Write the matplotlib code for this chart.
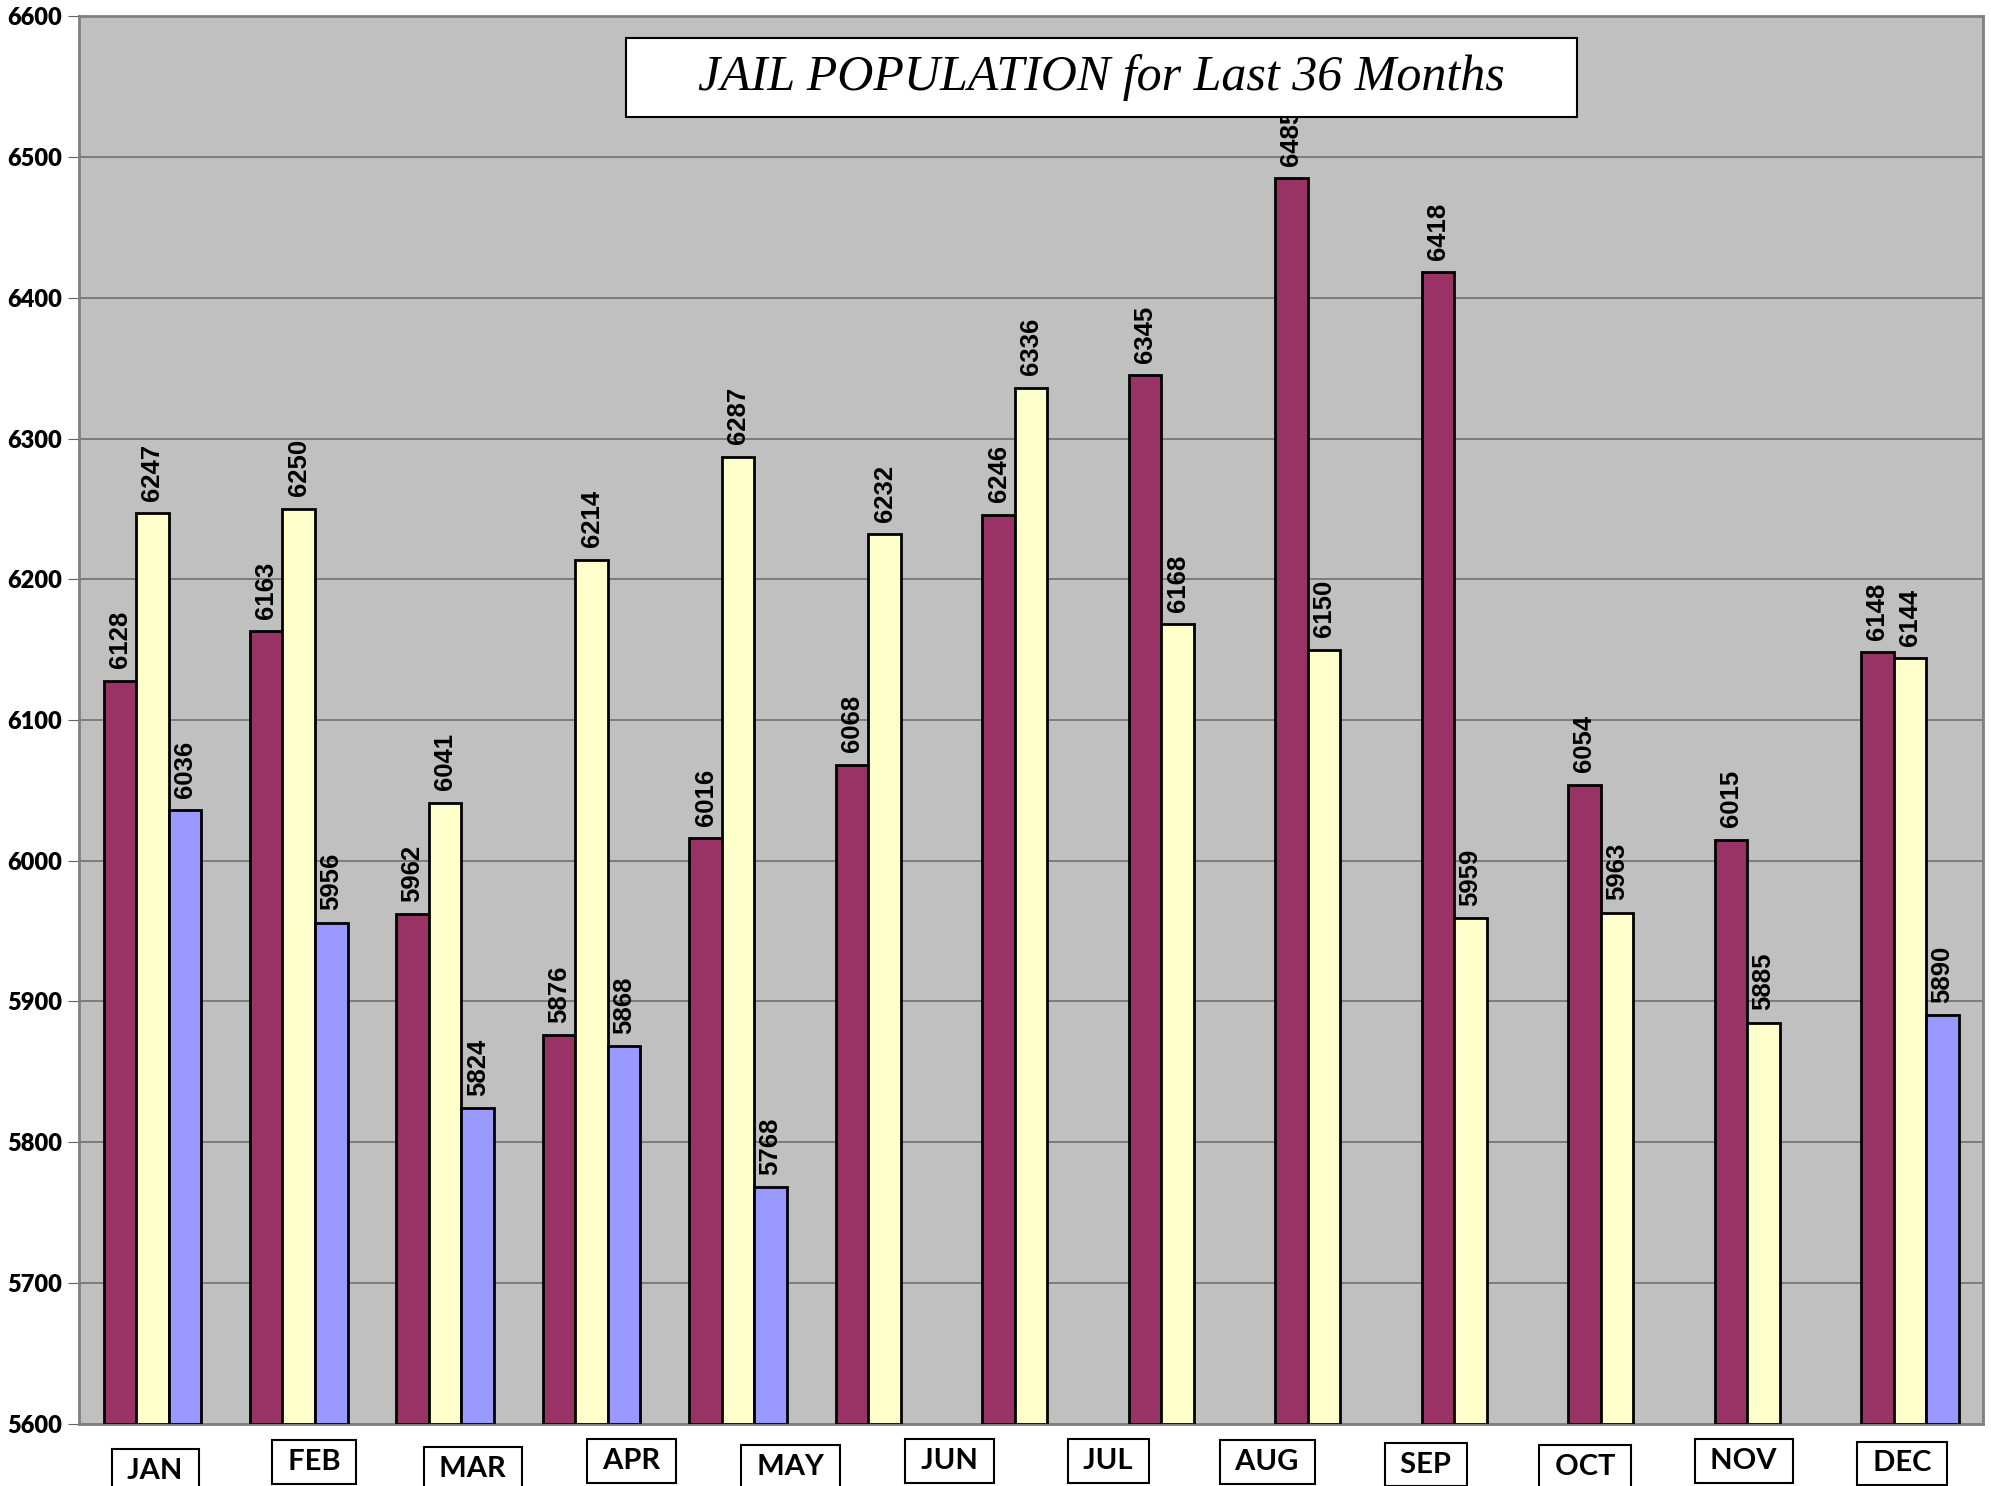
import numpy as np
import matplotlib.pyplot as plt
from matplotlib.patches import Rectangle
from matplotlib.transforms import blended_transform_factory

# values (13 groups of bars, 12 month boxes below)
year1 = [6128, 6163, 5962, 5876, 6016, 6068, 6246, 6345, 6485, 6418, 6054, 6015, 6148]
year2 = [6247, 6250, 6041, 6214, 6287, 6232, 6336, 6168, 6150, 5959, 5963, 5885, 6144]
year3 = [6036, 5956, 5824, 5868, 5768, None, None, None, None, None, None, None, 5890]
months = ['JAN', 'FEB', 'MAR', 'APR', 'MAY', 'JUN', 'JUL', 'AUG', 'SEP', 'OCT', 'NOV', 'DEC']
yticks = list(range(5600, 6601, 100))

# tops of the month boxes, in pixels of the shrunk view (they wobble a bit)
box_top = [1140, 1133, 1138, 1132, 1137, 1132, 1132, 1133, 1135, 1137, 1132, 1134]

colors = ['#993366', '#FFFFCC', '#9999FF']
width = 0.222

fig = plt.figure(figsize=(19.91, 14.86), dpi=100)
ax = fig.add_axes([0.0397, 0.042, 0.9563, 0.947])
ax.set_facecolor('#C0C0C0')

x = np.arange(len(year1))
for k, series in enumerate([year1, year2, year3]):
    for i, v in enumerate(series):
        if v is None:
            continue
        xc = x[i] + (k - 1) * width
        ax.bar(xc, v - 5600, bottom=5600, width=width, color=colors[k],
               edgecolor='black', linewidth=2, zorder=3)
        ax.annotate(str(v), (xc, v), xytext=(0, 9), textcoords='offset points',
                    rotation=90, ha='center', va='bottom', fontsize=18.5,
                    fontweight='bold', family='Liberation Sans', zorder=4,
                    annotation_clip=False)

ax.set_xlim(-0.5, 12.5)
ax.set_ylim(5600, 6600)
ax.set_yticks(yticks)
ax.set_yticklabels([str(t) for t in yticks], fontsize=17, fontweight='heavy', family='Lato')
ax.set_xticks([])
ax.yaxis.grid(True, color='#707070', linewidth=1.2, zorder=0)
ax.set_axisbelow(True)
ax.tick_params(axis='y', direction='out', length=8, color='#606060', pad=4)
for side in ['left', 'top', 'right', 'bottom']:
    ax.spines[side].set_color('#808080')
    ax.spines[side].set_linewidth(2)

# month labels in boxes below the plot
trans = blended_transform_factory(ax.transData, fig.transFigure)
pos = np.linspace(0.02, 11.95, len(months))
for m, px, top in zip(months, pos, box_top):
    fig.text(px, 1 - (top + 8) / 1170, ' ' + m + ' ', transform=trans, ha='center',
             va='top', fontsize=21, fontweight='bold', family='Lato',
             bbox=dict(boxstyle='square,pad=0.3', facecolor='white', edgecolor='black',
                       linewidth=1.5))

# title box
ax.add_patch(Rectangle((0.2873, 0.9287), 0.4993, 0.056, transform=ax.transAxes,
                       facecolor='white', edgecolor='black', linewidth=1.5, zorder=10,
                       clip_on=False))
ax.text(0.5367, 0.9567, 'JAIL POPULATION for Last 36 Months', transform=ax.transAxes,
        ha='center', va='center', fontsize=36, style='italic', family='Liberation Serif',
        zorder=11)

fig.savefig('out.png', dpi=100)
